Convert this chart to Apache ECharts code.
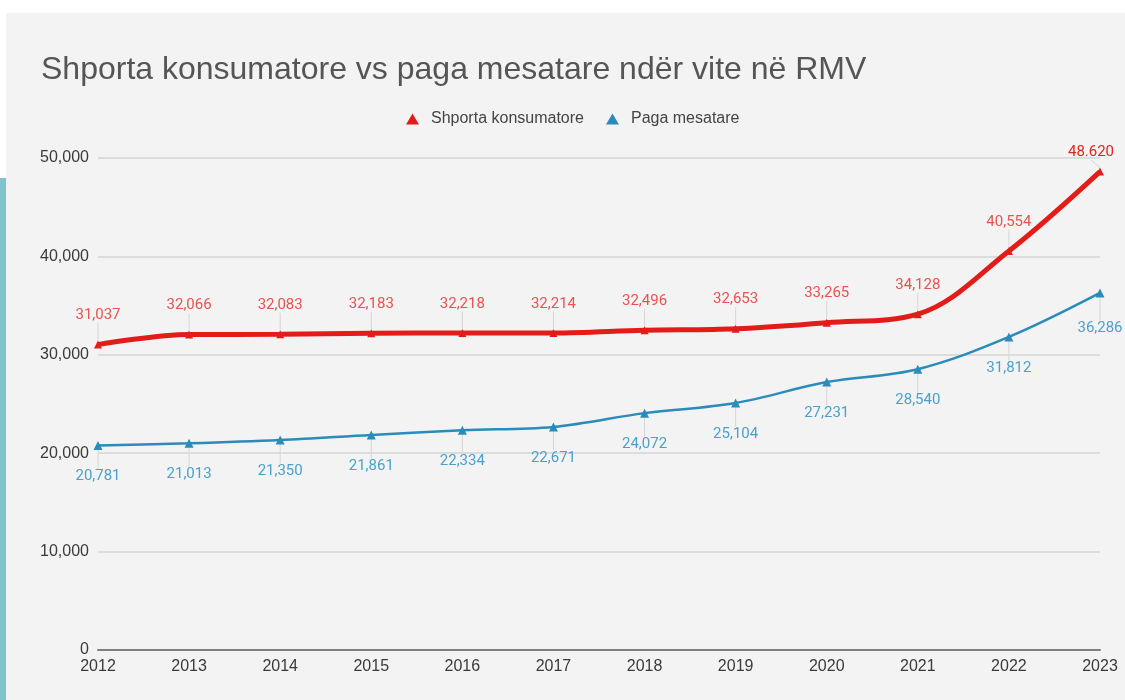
<!DOCTYPE html>
<html>
<head>
<meta charset="utf-8">
<script src="https://cdn.jsdelivr.net/npm/echarts@6/dist/echarts.min.js"></script>
<style>
html,body{margin:0;padding:0;background:#fff;}
#c{width:1125px;height:700px;}
</style>
</head>
<body>
<div id="c"></div>
<script>
const titleText = "Shporta konsumatore vs paga mesatare ndër vite në RMV";
const years = ["2012","2013","2014","2015","2016","2017","2018","2019","2020","2021","2022","2023"];
const seriesNames = ["Shporta konsumatore", "Paga mesatare"];
const shporta = [31037, 32066, 32083, 32183, 32218, 32214, 32496, 32653, 33265, 34128, 40554, 48620];
const paga = [20781, 21013, 21350, 21861, 22334, 22671, 24072, 25104, 27231, 28540, 31812, 36286];
const shportaLabels = ["31,037","32,066","32,083","32,183","32,218","32,214","32,496","32,653","33,265","34,128","40,554","48.620"];
const pagaLabels = ["20,781","21,013","21,350","21,861","22,334","22,671","24,072","25,104","27,231","28,540","31,812","36,286"];
const yTicks = [0, 10000, 20000, 30000, 40000, 50000];

const chart = echarts.init(document.getElementById('c'), null, {renderer:'canvas'});
const fmt = v => v.toLocaleString('en-US');
const last = years.length - 1;

const option = {
  backgroundColor: '#ffffff',
  animation: false,
  graphic: [
    {type:'rect', left:6, top:13, shape:{width:1119, height:687}, style:{fill:'#f3f3f3'}, z:-10},
    {type:'rect', left:0, top:178, shape:{width:6, height:522}, style:{fill:'#7ec4c9'}, z:-10}
  ],
  title: {
    text: titleText,
    left: 36, top: 49,
    textStyle: {fontFamily:'Liberation Sans, Arial, sans-serif', fontSize:32, fontWeight:'normal', color:'#555555'}
  },
  legend: {
    data: seriesNames,
    left: 401, top: 106,
    icon: 'triangle',
    itemWidth: 13, itemHeight: 11,
    itemGap: 22,
    textStyle: {fontFamily:'Liberation Sans, Arial, sans-serif', fontSize:16, color:'#444444', padding:[0,0,0,7]}
  },
  grid: {left:98, right:25, top:158, bottom:50, containLabel:false},
  xAxis: {
    type: 'category',
    data: years,
    boundaryGap: false,
    axisLine: {lineStyle:{color:'#7f7f7f', width:2}},
    axisTick: {show:false},
    axisLabel: {color:'#3a3a3a', fontFamily:'Liberation Sans, Arial, sans-serif', fontSize:16, margin:9}
  },
  yAxis: {
    type: 'value',
    min: yTicks[0], max: yTicks[yTicks.length-1], interval: 10000,
    axisLine: {show:false},
    axisTick: {show:false},
    splitLine: {lineStyle:{color:'#dcdcdc', width:2}},
    axisLabel: {color:'#3a3a3a', fontFamily:'Liberation Sans, Arial, sans-serif', fontSize:16, margin:9, formatter: v => fmt(v)}
  },
  series: [
    {
      name: seriesNames[0],
      type: 'line',
      data: shporta,
      smooth: 0.35,
      symbol: 'triangle',
      symbolSize: 8,
      showAllSymbol: true,
      lineStyle: {color:'#e31c1a', width:5},
      itemStyle: {color:'#e31c1a'},
      z: 3,
      label: {
        show: true, position: 'inside',
        fontFamily:'Roboto, sans-serif', fontSize:15, color:'#e8534f',
        formatter: p => shportaLabels[p.dataIndex]
      },
      labelLine: {show:true, lineStyle:{color:'#d6d6d6', width:1}},
      labelLayout: function (p) {
        if (p.dataIndex === last) return {dx:-9, dy:-19};
        return {dy:-29};
      },
      emphasis: {disabled:true}
    },
    {
      name: seriesNames[1],
      type: 'line',
      data: paga,
      smooth: 0.35,
      symbol: 'triangle',
      symbolSize: 9,
      showAllSymbol: true,
      lineStyle: {color:'#2b8bbb', width:2.5},
      itemStyle: {color:'#2b8bbb'},
      z: 2,
      label: {
        show: true, position: 'inside',
        fontFamily:'Roboto, sans-serif', fontSize:15, color:'#4aa2cc',
        formatter: p => pagaLabels[p.dataIndex]
      },
      labelLine: {show:true, lineStyle:{color:'#d6d6d6', width:1}},
      labelLayout: function (p) {
        if (p.dataIndex === last) return {dx:0, dy:35};
        return {dy:31};
      },
      emphasis: {disabled:true}
    }
  ]
};
// distinct colour for last red label
option.series[0].data = shporta.map((v,i) => i === last ? {value:v, label:{color:'#e3241c'}} : v);
chart.setOption(option);
</script>
</body>
</html>
